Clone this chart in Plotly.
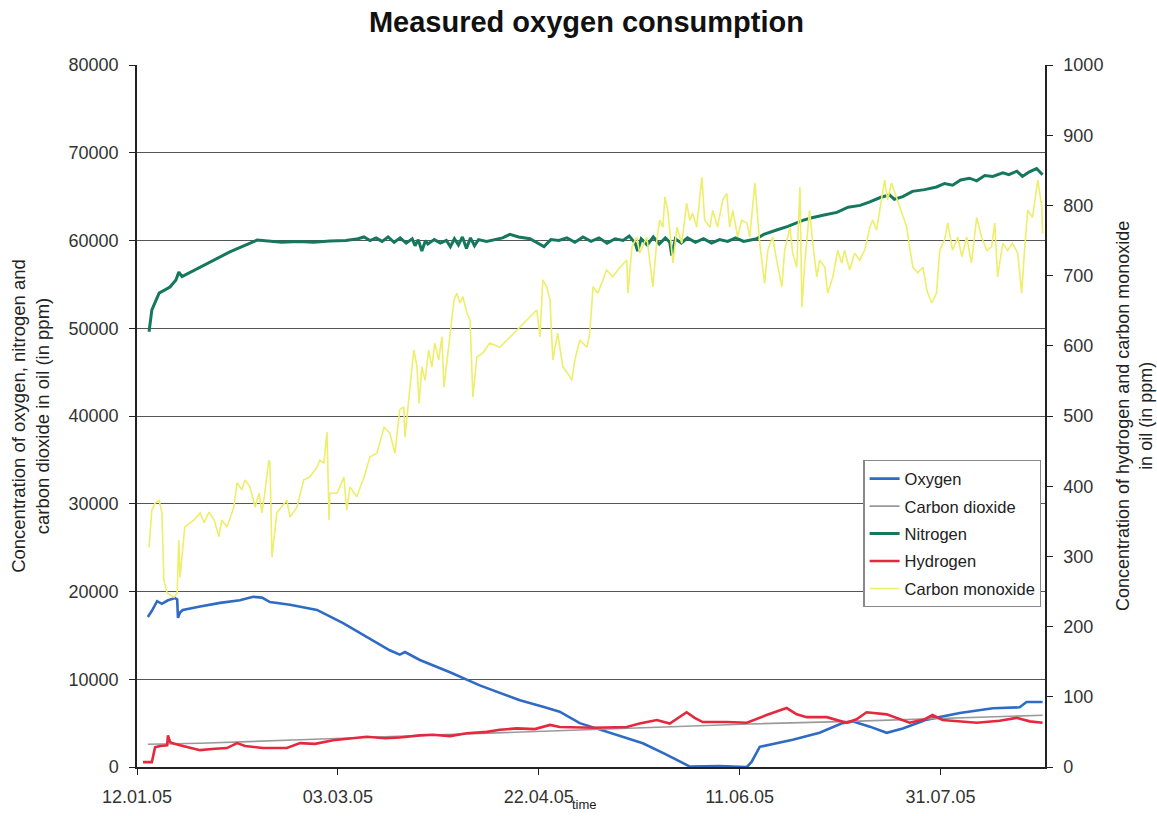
import pandas as pd
import plotly.graph_objects as go

START = pd.Timestamp("2005-01-12")

# ---- data (day offset from 12.01.05, value) ----
oxygen_days = [2.7, 3.7, 5.0, 6.2, 7.7, 9.5, 10.0, 10.2, 10.7, 11.4, 15.7, 20.7, 25.6, 28.9, 31.1, 33.1,
               38.1, 44.8, 51.3, 58.0, 62.9, 65.4, 66.7, 70.4, 77.9, 85.3, 95.3, 101.5, 105.2, 110.2,
               117.7, 125.9, 131.4, 135.8, 137.6, 145.0, 151.8, 153.0, 155.0, 163.2, 169.9, 175.6,
               178.1, 182.4, 186.6, 190.6, 196.6, 204.8, 213.0, 219.7, 221.4, 225.4]
oxygen_vals = [17100, 17800, 18900, 18600, 19000, 19250, 19100, 17000, 17600, 17900, 18300, 18700, 19000,
               19400, 19300, 18800, 18500, 17900, 16400, 14600, 13300, 12800, 13100, 12200, 10800, 9300,
               7600, 6800, 6300, 5000, 3900, 2700, 1500, 450, 50, 100, 0, 600, 2300, 3100, 3900, 5000,
               5200, 4600, 3900, 4400, 5400, 6150, 6700, 6800, 7400, 7400]

co2_days = [2.7, 15.7, 40.6, 65.4, 100.0, 127.6, 152.4, 177.4, 202.2, 225.4]
co2_vals = [2600, 2700, 3100, 3500, 4100, 4500, 4900, 5200, 5600, 5900]

nitrogen_days = [3.0, 3.7, 5.5, 8.2, 9.7, 10.4, 11.2, 16.7, 23.1, 29.9, 33, 36, 40, 44, 48, 52, 55, 56.5,
                 58, 59.5, 61, 62.5, 64, 65.5, 67, 68.5, 69.2, 70, 70.9, 71.8, 72.4, 74, 75.5, 77, 78,
                 79, 80, 81, 82, 83, 84, 85, 87, 89, 91, 92.8, 95, 97.8, 99.5, 101.3, 103, 105, 107,
                 109, 111, 113, 115, 117, 119, 121, 122.5, 124, 124.6, 125.5, 127, 128.5, 130, 131.5,
                 132.6, 133.1, 134, 135.5, 137, 139, 141, 143, 145, 147, 149, 151, 154.2, 156, 159.2,
                 162, 165.7, 168, 171, 174.2, 177, 180, 182.4, 185, 187.3, 188.5, 190.6, 193, 196, 199,
                 201, 203, 205, 207.2, 209, 211, 213, 215.5, 217, 219, 220.4, 222, 223.9, 225.4]
nitrogen_vals = [49600, 52100, 54000, 54700, 55500, 56400, 55900, 57200, 58700, 60050, 59900, 59800,
                 59900, 59800, 59950, 60000, 60200, 60400, 60000, 60300, 59900, 60400, 59800, 60300,
                 59700, 60200, 59400, 60100, 58800, 60000, 59600, 60100, 59700, 60000, 59300, 60200,
                 59500, 60400, 59100, 60300, 59400, 60100, 59900, 60100, 60300, 60700, 60400, 60200,
                 59800, 59300, 60100, 60000, 60300, 59800, 60400, 59900, 60300, 59700, 60200, 60000,
                 60500, 59700, 58800, 60200, 59500, 60400, 59600, 60300, 59800, 58300, 60200, 59700,
                 60300, 59800, 60200, 59700, 60100, 59900, 60300, 59900, 60200, 60700, 61200, 61600,
                 62300, 62600, 62900, 63200, 63800, 64000, 64400, 64900, 65200, 64700, 65000, 65600,
                 65800, 66100, 66500, 66300, 66900, 67100, 66800, 67400, 67300, 67700, 67500, 67900,
                 67300, 67800, 68200, 67500]

hydrogen_days = [1.5, 3.7, 4.5, 5.7, 7.5, 7.7, 8.2, 8.7, 10.7, 13.9, 15.7, 19.4, 22.4, 24.9, 26.9, 31.3,
                 37.3, 40.6, 44.3, 48.8, 53.0, 57.2, 61.7, 65.4, 70.4, 73.6, 77.9, 82.1, 87.1, 90.3,
                 94.5, 99.0, 102.8, 105.2, 113.5, 121.9, 125.1, 129.4, 132.6, 136.8, 138.8, 140.8,
                 146.8, 151.8, 156.7, 161.7, 164.2, 166.7, 171.7, 176.6, 179.1, 181.6, 186.6, 192.3,
                 196.1, 198.0, 200.5, 204.8, 209.0, 214.7, 218.9, 222.2, 225.4]
hydrogen_vals = [7, 7, 28, 30, 31, 45, 36, 34, 31, 27, 24, 26, 27, 34, 30, 27, 27, 34, 33, 38, 40, 43,
                 41, 42, 45, 46, 44, 48, 50, 53, 55, 54, 60, 57, 56, 57, 62, 67, 62, 78, 70, 64, 64, 63,
                 74, 84, 75, 71, 71, 63, 68, 78, 75, 63, 68, 74, 67, 65, 63, 66, 70, 65, 63]

co_days = [3.0, 3.7, 4.5, 5.5, 6.2, 6.7, 7.5, 9.2, 10.0, 10.4, 10.7, 11.7, 11.9, 14.2, 15.7, 16.7, 17.9,
           19.2, 20.4, 21.1, 22.4, 24.1, 24.9, 26.1, 26.9, 28.1, 29.4, 30.4, 31.1, 31.8, 32.8, 33.1,
           33.6, 34.8, 36.6, 37.3, 38.1, 39.8, 41.5, 43.0, 44.8, 45.5, 46.5, 47.3, 47.8, 48.0, 49.8,
           51.5, 52.2, 53.0, 54.7, 56.5, 58.0, 59.7, 61.5, 62.9, 64.2, 65.4, 66.4, 66.7, 67.7, 68.9,
           69.7, 70.2, 70.9, 71.7, 72.6, 73.4, 74.1, 75.1, 75.9, 76.4, 77.1, 77.9, 78.9, 79.6, 80.4,
           81.1, 82.1, 82.9, 83.6, 84.6, 86.1, 87.8, 90.3, 92.1, 95.3, 99.5, 100.3, 101.0, 102.0,
           102.8, 103.5, 104.7, 106.0, 107.2, 108.2, 109.0, 110.2, 112.0, 112.7, 113.5, 114.7, 115.9,
           116.9, 118.4, 120.2, 121.9, 122.2, 123.2, 124.4, 125.1, 126.9, 128.4, 129.4, 130.1, 130.9,
           131.4, 132.1, 133.1, 133.4, 134.4, 135.6, 136.8, 137.6, 138.3, 139.3, 140.6, 141.3, 142.6,
           143.3, 144.5, 145.8, 146.8, 147.5, 148.3, 149.5, 150.5, 151.8, 152.5, 153.8, 155.0, 156.2,
           157.0, 158.2, 159.2, 160.5, 161.2, 162.5, 163.2, 164.2, 165.0, 165.5, 166.2, 167.4, 168.2,
           169.2, 169.9, 171.2, 171.9, 173.2, 174.4, 175.4, 176.1, 177.4, 178.6, 179.9, 181.1, 182.4,
           183.1, 184.1, 185.4, 186.1, 186.8, 187.8, 188.6, 189.8, 190.6, 191.6, 192.3, 193.1, 194.3,
           195.6, 196.6, 197.8, 199.0, 199.8, 201.0, 201.8, 203.0, 204.3, 205.3, 206.5, 207.7, 209.0,
           210.2, 211.5, 212.7, 213.5, 214.2, 215.5, 216.7, 217.9, 219.2, 220.2, 220.9, 221.7, 222.9,
           224.2, 225.2, 225.4]
co_vals = [313, 366, 376, 380, 362, 266, 248, 242, 248, 323, 270, 333, 342, 352, 362, 348, 363, 352, 328,
           352, 342, 370, 405, 395, 409, 399, 370, 390, 362, 390, 437, 433, 299, 362, 376, 380, 356,
           370, 409, 413, 427, 437, 433, 477, 352, 390, 390, 413, 366, 399, 385, 413, 442, 447, 484,
           476, 447, 509, 513, 470, 527, 594, 570, 518, 570, 551, 594, 570, 604, 580, 613, 541, 575,
           613, 665, 675, 661, 670, 647, 637, 527, 584, 590, 604, 598, 608, 627, 651, 613, 694, 684,
           665, 580, 618, 570, 561, 551, 580, 608, 598, 618, 684, 675, 694, 708, 698, 712, 722, 675,
           741, 755, 732, 755, 684, 751, 779, 769, 812, 793, 736, 718, 769, 746, 803, 779, 789, 769,
           840, 779, 769, 793, 769, 808, 817, 769, 793, 755, 779, 775, 755, 832, 746, 689, 736, 755,
           722, 684, 736, 769, 732, 712, 826, 655, 718, 793, 746, 698, 722, 712, 675, 698, 736, 718,
           736, 708, 732, 722, 736, 769, 779, 765, 812, 836, 808, 832, 818, 798, 783, 769, 741, 712,
           704, 712, 679, 661, 675, 736, 751, 775, 736, 755, 727, 755, 718, 783, 755, 736, 741, 775,
           698, 746, 736, 746, 732, 675, 736, 793, 783, 836, 798, 760]

tick_dates = ["2005-01-12", "2005-03-03", "2005-04-22", "2005-06-11", "2005-07-31"]
tick_labels = ["12.01.05", "03.03.05", "22.04.05", "11.06.05", "31.07.05"]


def to_dates(days):
    return START + pd.to_timedelta(days, unit="D")


FONT = "Arial, Liberation Sans, sans-serif"

fig = go.Figure()
fig.add_trace(go.Scatter(x=to_dates(oxygen_days), y=oxygen_vals, name="Oxygen", mode="lines",
                         legendgroup="o2", line=dict(color="#2F6BC4", width=2.6)))
fig.add_trace(go.Scatter(x=to_dates(co2_days), y=co2_vals, name="Carbon dioxide", mode="lines",
                         legendgroup="co2", line=dict(color="#9A9A9A", width=1.6)))
fig.add_trace(go.Scatter(x=to_dates(nitrogen_days), y=nitrogen_vals, name="Nitrogen", mode="lines",
                         legendgroup="n2", line=dict(color="#15785E", width=3)))
fig.add_trace(go.Scatter(x=to_dates(hydrogen_days), y=hydrogen_vals, name="Hydrogen", mode="lines",
                         legendgroup="h2", line=dict(color="#E6283F", width=2.6), yaxis="y2"))
fig.add_trace(go.Scatter(x=to_dates(co_days), y=co_vals, name="Carbon monoxide", mode="lines",
                         legendgroup="co", line=dict(color="#EEEE6A", width=1.6), yaxis="y2"))

fig.update_layout(
    width=1157, height=816,
    margin=dict(l=137, r=112, t=65, b=49, autoexpand=False),
    paper_bgcolor="white", plot_bgcolor="white",
    font=dict(family=FONT, color="#333333", size=17),
    showlegend=True,
    title=dict(text="<b>Measured oxygen consumption</b>", x=0.495, xref="paper", xanchor="center",
               y=1 - 22 / 816, yref="container", yanchor="middle",
               font=dict(size=29, color="#111111")),
    xaxis=dict(type="date", range=[START, START + pd.Timedelta(days=226)],
               tickvals=tick_dates, ticktext=tick_labels, ticks="outside", ticklen=6,
               tickcolor="#222", showline=True, linecolor="#222", linewidth=1.5,
               showgrid=False, zeroline=False, tickfont=dict(size=18, color="#333"),
               ticklabelstandoff=7, automargin=False),
    yaxis=dict(range=[0, 80000], dtick=10000, ticks="outside", ticklen=6, tickcolor="#222",
               showline=True, linecolor="#222", linewidth=1.5, showgrid=True,
               gridcolor="#555555", gridwidth=1.4, zeroline=False, tickformat="d",
               tickfont=dict(size=18, color="#333"), ticklabelstandoff=7, automargin=False),
    yaxis2=dict(range=[0, 1000], dtick=100, overlaying="y", side="right", ticks="outside",
                ticklen=6, tickcolor="#222", showline=True, linecolor="#222", linewidth=1.5,
                showgrid=False, zeroline=False, tickfont=dict(size=18, color="#333"),
                ticklabelstandoff=7, automargin=False),
    legend=dict(x=0.8, y=0.437, xanchor="left", yanchor="top", bgcolor="white",
                bordercolor="#888888", borderwidth=1.2, font=dict(size=16.5, color="#222"),
                itemwidth=30, traceorder="grouped", tracegroupgap=3),
    annotations=[
        dict(text="Concentration of oxygen, nitrogen and<br>carbon dioxide in oil (in ppm)",
             xref="paper", yref="paper", x=-0.118, y=0.5, textangle=-90, showarrow=False,
             xanchor="center", yanchor="middle", font=dict(size=18.5, color="#222")),
        dict(text="Concentration of hydrogen and carbon monoxide<br>in oil (in ppm)",
             xref="paper", yref="paper", x=1.098, y=0.5, textangle=-90, showarrow=False,
             xanchor="center", yanchor="middle", font=dict(size=18, color="#222")),
        dict(text="time", xref="paper", yref="paper", x=0.493, y=-0.054, showarrow=False,
             xanchor="center", yanchor="middle", font=dict(size=13, color="#222")),
    ],
)

# remove the default page margin so the figure fills the window exactly
fig.write_html("out.html", config={"displayModeBar": False},
               post_script="document.body.style.margin='0';")
